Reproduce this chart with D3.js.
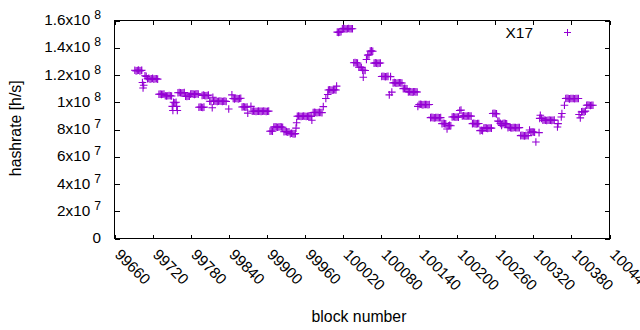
<!DOCTYPE html>
<html><head><meta charset="utf-8">
<script src="https://cdn.jsdelivr.net/npm/d3@7"></script>
<style>html,body{margin:0;padding:0;background:#fff;overflow:hidden}</style>
</head><body>
<svg id="chart" width="640" height="330"></svg>
<script>
// ---- data (block number, hashrate in MH/s) ----
const blocks = [
99692,99694,99696,99698,99700,99702,99703,99704,99705,99706,
99708,99710,99712,99714,99716,99718,99720,99722,99724,99726,99728,
99730,99732,99734,99736,99738,99740,99742,99744,99746,99748,99750,
99751,99752,99753,99755,99757,99758,99759,
99760,99762,99764,99766,99768,99770,99772,99774,99776,99778,
99780,99782,99784,99786,99788,99790,99792,99793,99795,99797,99799,99801,
99798,99800,99802,99804,99806,99808,
99810,99812,99814,99815,99816,99818,99820,99822,99824,99826,99828,99830,99832,99834,99836,
99840,99845,99847,99849,99851,99853,99855,99857,99859,
99861,99863,99865,99867,99869,99870,99875,
99877,99879,99881,99883,99885,99887,99889,99891,99893,99895,99897,99899,99901,99903,
99905,99907,99909,99911,99913,99915,99917,99919,99921,99923,99925,
99927,99929,99931,99933,99935,99937,99939,99941,99943,99945,99946,99947,
99948,99950,99952,99954,99956,99958,99960,99962,99964,99966,99968,99970,99971,
99973,99975,99977,99979,99981,99983,99985,99987,99989,99993,99996,
99997,99999,100001,100003,100005,100007,100009,100010,
100011,100013,100015,100017,100019,100021,100023,100025,100027,100029,100031,100033,100035,
100037,100039,100041,100043,100045,100047,100049,100051,100052,100053,100055,
100057,100059,100061,100063,100065,100067,100069,100071,100073,100075,100077,100079,
100081,100083,100085,100087,100089,100091,100093,100095,100097,
100099,100101,100103,100105,100107,100109,100111,100113,100115,100117,100119,100121,
100123,100125,100127,100129,100131,100133,100135,100137,
100138,100140,100142,100144,100146,100148,100150,100152,100154,100156,
100158,100160,100162,100164,100166,100168,100170,100172,100174,
100176,100178,100180,100182,100184,100186,100188,100190,
100192,100194,100196,100198,100200,100202,100204,100206,
100208,100210,100212,100214,100216,100218,100220,100222,
100224,100226,100228,100230,100232,100234,100236,100238,100240,
100242,100244,100246,100248,100250,100252,100254,100256,100258,100260,100262,
100264,100266,100268,100270,100272,100274,100276,100278,
100280,100282,100284,100286,100288,100290,100292,100294,100296,100298,
100300,100302,100304,100306,100308,100310,100312,100314,100316,100318,100320,100322,
100324,100329,100330,100331,100333,
100335,100337,100339,100341,100343,100345,100347,100349,100351,100353,
100358,100359,100364,100365,100369,
100371,100373,100375,100377,100379,100381,100383,100385,100387,100389,100391,
100392,100394,100396,100398,100400,100402,
100404,100406,100408,100410,100412,100414
];
const hashrateMH = [
123.5,123,123.3,123.6,123,123.3,123.5,114.5,110.5,112.5,
119.5,119,117.3,117.5,117,117.3,117.5,117,117.3,117.3,117,
105.9,106,105.8,105.9,106,104.8,104.6,104.8,105,104.8,104.6,
97,94,100,99.6,100,97,94,
107,107.2,107,106.8,107,107.2,104.4,104.2,104.5,104.4,
106,106.2,106,105.8,106,106.2,106,96.3,96.5,96.3,96.2,96.4,
105,105.2,105,104.8,105,105.2,
100.7,100.5,96,103.7,100.7,100.9,100.7,100.5,100.7,100.9,100.7,100.5,100.7,100.8,100.6,
95,105.4,102.7,102.5,102.8,102.7,102.5,102.7,102.9,
96.5,96.7,96.5,96.3,96.5,92,97,
93.4,93.6,93.4,93.2,93.4,93.5,93.4,93.3,93.4,93.6,93.4,93.2,93.4,93.5,
78.7,78.9,78.7,81.8,82,81.8,81.6,81.8,82,81.8,81.7,
78.3,78.5,78.3,78.1,78.3,77,77.2,77,76.8,77,81,85,
89.7,89.9,89.7,89.5,89.7,89.9,89.7,89.5,89.7,89.8,89.7,89.6,86.8,
92.5,92.7,92.5,92.3,92.5,92.6,92.5,92.4,96.8,102.7,105.7,
109,109.2,109,108.8,109,109.2,109,111.8,
151.5,151.3,151.5,151.7,154,154.2,154,153.8,154,154.1,154,153.9,154,
129,129.2,129,128.8,125.7,125.9,125.5,123.5,118.4,123.5,123.3,
131.4,134.6,134.8,137.5,137.7,137.4,128.7,128.9,128.7,128.5,128.7,128.8,
118.9,119.1,118.9,118.7,118.9,119,105.4,118.8,107.4,
114.2,114.4,114.2,114,114.2,114.3,114.2,114.1,110,110.2,110,109.8,
107.6,107.8,107.6,107.4,107.6,107.7,107.6,107.5,
97,98.3,98.5,98.3,98.1,98.3,98.4,98.3,98.2,98.3,
88.7,88.9,88.7,88.5,88.7,88.8,88.7,88.6,88.7,
84.3,84.5,84.3,84.1,80.4,82.8,83,82.8,
89.2,89.4,89.2,89,89.2,89.1,94,94.2,
89.9,90.1,89.9,89.7,89.9,90,89.9,89.8,
84.3,84.5,84.3,84.1,84.3,84.4,79.2,79.4,79.2,
81,81.2,81,80.8,81,81.1,81,91.7,91.9,91.7,91.5,
86.2,86,84.5,83,84.3,84.5,84.3,84.1,
81.4,81.6,81.4,81.2,81.4,81.5,81.4,81.3,81.4,81.4,
75.5,75.7,75.5,75.3,75.5,75.6,75.5,79.6,78.2,78.4,78.2,78,
70.8,77.7,88.2,90.5,88.2,
86.8,87,86.8,86.6,86.8,86.9,86.8,86.7,86.8,86.9,
81.8,84.3,89.2,91.7,97.8,
102.7,102.9,102.7,102.5,102.7,102.8,102.7,102.6,102.7,102.8,102.7,
91,88.5,92.9,93.1,92.9,93.5,
97.8,98,97.8,97.6,97.8,97.8
];
const seriesName = "X17";
const xTicks = [99660,99720,99780,99840,99900,99960,100020,100080,100140,100200,100260,100320,100380,100440];
const yTicks = [0,2e7,4e7,6e7,8e7,1e8,1.2e8,1.4e8,1.6e8];
const yMantissa = ["0","2","4","6","8","1","1.2","1.4","1.6"];
const yExponent = ["","7","7","7","7","8","8","8","8"];
const xTitle = "block number";
const yTitle = "hashrate [h/s]";

// ---- layout ----
const W = 640, H = 330;
const L = 114.5, R = 609.5, T = 20.5, B = 238.5;
const FONT = "'Liberation Sans', Arial, sans-serif";
const COLOR = "#9400d3";

const x = d3.scaleLinear().domain([99660, 100440]).range([L, R]);
const y = d3.scaleLinear().domain([0, 1.6e8]).range([B, T]);

const svg = d3.select('#chart');
svg.append('rect').attr('width', W).attr('height', H).attr('fill', '#fff');

// left axis (ticks inward, labels with superscript)
const gLeft = svg.append('g').attr('transform', `translate(${L},0)`)
  .call(d3.axisLeft(y).tickValues(yTicks).tickSizeInner(-5).tickSizeOuter(0).tickPadding(0));
gLeft.select('.domain').remove();
gLeft.selectAll('.tick line').attr('stroke', '#000').attr('shape-rendering', 'crispEdges');
gLeft.selectAll('.tick text').each(function(d, i) {
  const t = d3.select(this);
  t.text(null).attr('x', -13.5).attr('dy', null).attr('text-anchor', 'end')
   .attr('font-family', FONT).attr('font-size', 15.3).attr('fill', '#000');
  t.attr('y', 4);
  if (yExponent[i]) {
    t.append('tspan').text(yMantissa[i] + 'x10');
    t.append('tspan').attr('dx', 4).attr('dy', -5.8).attr('font-size', 12.2).text(yExponent[i]);
  } else {
    t.text(yMantissa[i]);
  }
});

// right mirror axis
const gRight = svg.append('g').attr('transform', `translate(${R},0)`)
  .call(d3.axisRight(y).tickValues(yTicks).tickSizeInner(-5).tickSizeOuter(0).tickFormat(() => ''));
gRight.select('.domain').remove();
gRight.selectAll('.tick line').attr('stroke', '#000').attr('shape-rendering', 'crispEdges');

// bottom axis
const gBot = svg.append('g').attr('transform', `translate(0,${B})`)
  .call(d3.axisBottom(x).tickValues(xTicks).tickSizeInner(-4).tickSizeOuter(0).tickFormat(d3.format('d')));
gBot.select('.domain').remove();
gBot.selectAll('.tick line').attr('stroke', '#000').attr('shape-rendering', 'crispEdges');
gBot.selectAll('.tick text')
  .attr('x', 0).attr('y', 0).attr('dy', null)
  .attr('transform', 'translate(-1,17) rotate(45)')
  .attr('text-anchor', 'start')
  .attr('font-family', FONT).attr('font-size', 15.3).attr('fill', '#000');

// top mirror axis
const gTop = svg.append('g').attr('transform', `translate(0,${T})`)
  .call(d3.axisTop(x).tickValues(xTicks).tickSizeInner(-4).tickSizeOuter(0).tickFormat(() => ''));
gTop.select('.domain').remove();
gTop.selectAll('.tick line').attr('stroke', '#000').attr('shape-rendering', 'crispEdges');

// border
svg.append('rect').attr('x', L).attr('y', T).attr('width', R - L).attr('height', B - T)
  .attr('fill', 'none').attr('stroke', '#000').attr('stroke-width', 1).attr('shape-rendering', 'crispEdges');

// points
const a = 3.8;
const plus = (cx, cy) => `M${cx - a},${cy}h${2 * a}M${cx},${cy - a}v${2 * a}`;
const pts = blocks.map((b, i) => ({ b, v: hashrateMH[i] * 1e6 }));
svg.append('g').selectAll('path').data(pts).join('path')
  .attr('d', d => plus(x(d.b), y(d.v)))
  .attr('fill', 'none').attr('stroke', COLOR).attr('stroke-width', 1.1);

// legend
svg.append('text').attr('x', 533).attr('y', 37.5).attr('text-anchor', 'end')
  .attr('font-family', FONT).attr('font-size', 15.4).attr('fill', '#000').text(seriesName);
svg.append('path').attr('d', plus(567.5, 32.5)).attr('shape-rendering', 'crispEdges')
  .attr('fill', 'none').attr('stroke', COLOR).attr('stroke-width', 1);

// axis titles
svg.append('text').attr('x', 359).attr('y', 322)
  .attr('text-anchor', 'middle').attr('font-family', FONT).attr('font-size', 15.8).attr('fill', '#000')
  .text(xTitle);
svg.append('text').attr('transform', 'translate(21,128.3) rotate(-90)')
  .attr('text-anchor', 'middle').attr('font-family', FONT).attr('font-size', 15.8).attr('fill', '#000')
  .text(yTitle);
</script>
</body></html>
